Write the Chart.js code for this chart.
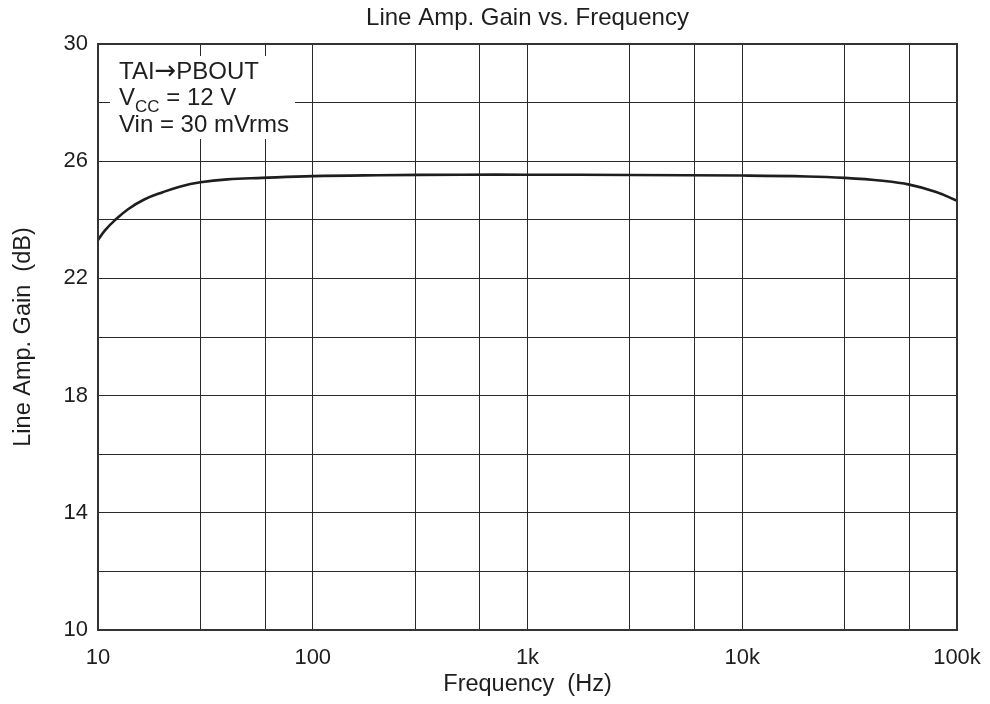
<!DOCTYPE html>
<html>
<head>
<meta charset="utf-8">
<title>Line Amp. Gain vs. Frequency</title>
<script src="https://cdn.jsdelivr.net/npm/chart.js@4/dist/chart.umd.min.js"></script>
<style>
  html, body { margin: 0; padding: 0; background: #fff; }
  #wrap { width: 990px; height: 704px; }
</style>
</head>
<body>
<div id="wrap"><canvas id="chart__gain"></canvas></div>
<script>
// values
const freqs = [10, 10.8, 12, 13.8, 16.5, 20, 24, 30, 40, 58, 100, 200, 500, 1000, 3000, 10000, 20000, 30000, 45000, 60000, 80000, 100000];
const gain = [23.31, 23.65, 23.99, 24.36, 24.7, 24.94, 25.13, 25.28, 25.38, 25.43, 25.49, 25.52, 25.54, 25.54, 25.53, 25.51, 25.48, 25.43, 25.33, 25.2, 24.95, 24.65];

// grid lines and tick labels
const xGridValues = [10, 30, 60, 100, 300, 600, 1000, 3000, 6000, 10000, 30000, 60000, 100000];
const xLabelValues = [10, 100, 1000, 10000, 100000];
const xLabelTexts = ["10", "100", "1k", "10k", "100k"];
const yLabelValues = [10, 14, 18, 22, 26, 30];

const chartTitle = "Line Amp. Gain vs. Frequency";
const noteLines = ["TAI", "PBOUT", "Vin = 30 mVrms"];

const ink = "#1e1e1e";
const family = "'Liberation Sans', Arial, Helvetica, sans-serif";
const tickFont = { family: family, size: 22 };
const titleFont = { family: family, size: 23.5 };

// title centred over the plot, note box in the upper left corner, frame
const decorations = {
  id: "decorations",
  beforeDatasetsDraw(chart) {
    const { ctx, chartArea: a } = chart;
    ctx.save();
    ctx.fillStyle = ink;
    ctx.font = `24px ${family}`;
    ctx.textAlign = "center";
    ctx.textBaseline = "middle";
    ctx.fillText(chartTitle, (a.left + a.right) / 2, 18);

    ctx.fillStyle = "#fff";
    ctx.fillRect(a.left + 12, a.top + 12, 185, 83);
    ctx.fillStyle = ink;
    ctx.textAlign = "left";
    ctx.textBaseline = "alphabetic";
    const x = a.left + 21;
    // TAI -> PBOUT
    ctx.font = `24px ${family}`;
    ctx.fillText(noteLines[0], x, a.top + 35);
    let w = ctx.measureText(noteLines[0]).width;
    ctx.font = "26px 'DejaVu Sans', sans-serif";
    ctx.fillText("\u2192", x + w, a.top + 35);
    w += ctx.measureText("\u2192").width;
    ctx.font = `24px ${family}`;
    ctx.fillText(noteLines[1], x + w, a.top + 35);
    // V with subscript CC
    ctx.fillText("V", x, a.top + 61);
    w = ctx.measureText("V").width;
    ctx.font = `17px ${family}`;
    ctx.fillText("CC", x + w, a.top + 68);
    w += ctx.measureText("CC").width;
    ctx.font = `24px ${family}`;
    ctx.fillText(" = 12 V", x + w, a.top + 61);
    ctx.fillText(noteLines[2], x, a.top + 88);
    ctx.restore();
  },
  afterDatasetsDraw(chart) {
    const { ctx, chartArea: a } = chart;
    ctx.save();
    ctx.strokeStyle = "#333";
    ctx.lineWidth = 2;
    ctx.strokeRect(a.left, a.top, a.right - a.left, a.bottom - a.top);
    ctx.restore();
  },
};

new Chart(document.getElementById("chart__gain"), {
  type: "line",
  data: {
    datasets: [
      {
        label: "Gain",
        data: freqs.map((f, i) => ({ x: f, y: gain[i] })),
        borderColor: ink,
        borderWidth: 2.6,
        pointRadius: 0,
        fill: false,
        tension: 0.4,
      },
    ],
  },
  options: {
    responsive: true,
    maintainAspectRatio: false,
    animation: false,
    layout: { padding: { top: 44, right: 33 } },
    plugins: {
      legend: { display: false },
      tooltip: { enabled: false },
      title: { display: false },
    },
    scales: {
      x: {
        type: "logarithmic",
        min: 10,
        max: 100000,
        afterFit(scale) {
          scale.height = 74;
          scale.paddingLeft = 0;
          scale.paddingRight = 0;
        },
        afterBuildTicks(scale) {
          scale.ticks = xGridValues.map((v) => ({ value: v }));
        },
        ticks: {
          autoSkip: false,
          maxRotation: 0,
          color: ink,
          font: tickFont,
          padding: 15,
          callback(value) {
            const i = xLabelValues.indexOf(value);
            return i >= 0 ? xLabelTexts[i] : "";
          },
        },
        grid: { color: "#2a2a2a", lineWidth: 1, drawTicks: false },
        border: { display: false },
        title: {
          display: true,
          text: "Frequency  (Hz)",
          color: ink,
          font: titleFont,
          padding: { top: 0, bottom: 5 },
        },
      },
      y: {
        min: 10,
        max: 30,
        afterFit(scale) {
          scale.width = 98;
          scale.paddingTop = 0;
          scale.paddingBottom = 0;
        },
        ticks: {
          stepSize: 2,
          color: ink,
          font: tickFont,
          padding: 10,
          callback(value) {
            return yLabelValues.includes(value) ? String(value) : "";
          },
        },
        grid: { color: "#2a2a2a", lineWidth: 1, drawTicks: false },
        border: { display: false },
        title: {
          display: true,
          text: "Line Amp. Gain  (dB)",
          color: ink,
          font: titleFont,
          padding: { top: 9, bottom: 0 },
        },
      },
    },
  },
  plugins: [decorations],
});
</script>
</body>
</html>
